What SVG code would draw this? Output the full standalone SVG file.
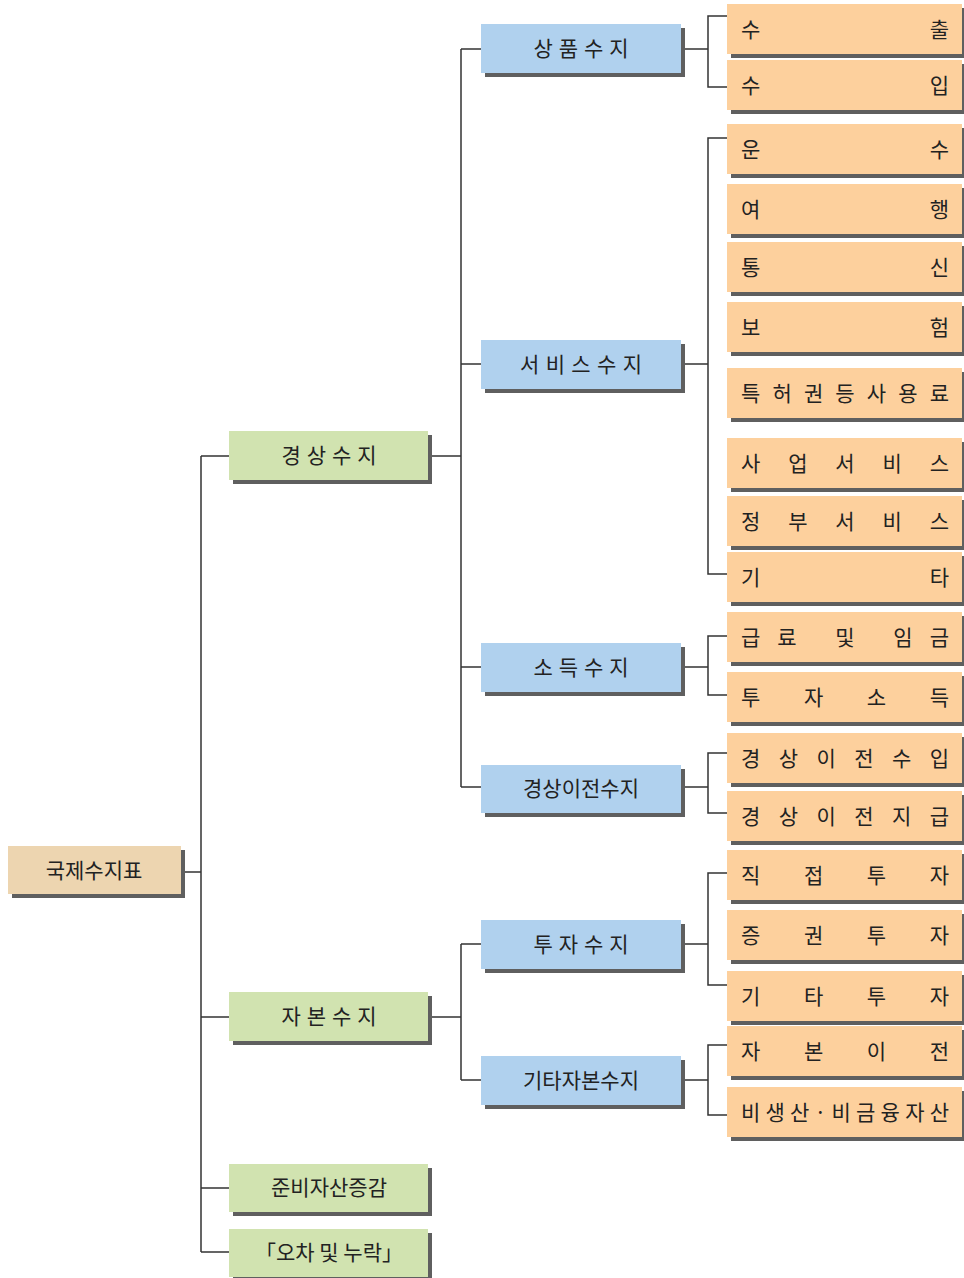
<svg xmlns="http://www.w3.org/2000/svg" width="964" height="1278" viewBox="0 0 964 1278">
<style>
text{font-family:"Noto Sans CJK KR","Noto Sans",sans-serif;fill:#222;font-size:21px}
.sh{fill:#5f5f5f}
.root{fill:#EDD5B0}
.g{fill:#D1E3B0}
.b{fill:#B0D1EE}
.o{fill:#FDD09D}
.c{text-anchor:middle}
#connectors path{fill:none;stroke:#333;stroke-width:1.5}
</style>
<rect width="964" height="1278" fill="#fff"/>
<g id="connectors">
<path d="M181 872H201M201 456V1252M201 456H229M201 1017H229M201 1188H229M201 1252H229"/>
<path d="M428 456H461M461 49V787M461 49H481M461 364H481M461 667H481M461 787H481"/>
<path d="M428 1017H461M461 944V1080M461 944H481M461 1080H481"/>
<path d="M684 49H708M727 16H708V87H727"/>
<path d="M684 364H708M727 138H708V574H727"/>
<path d="M684 667H708M727 636H708V695H727"/>
<path d="M684 787H708M727 753H708V813H727"/>
<path d="M684 944H708M727 873H708V985H727"/>
<path d="M684 1080H708M727 1045H708V1115H727"/>
</g>
<g id="n-root"><rect class="sh" x="12" y="850" width="173" height="48"/><rect class="root" x="8" y="846" width="173" height="48"/><text class="c" x="94" y="878">국제수지표</text></g>
<g id="n-current"><rect class="sh" x="233" y="435" width="199" height="49"/><rect class="g" x="229" y="431" width="199" height="49"/><text class="c" x="329" y="463" textLength="95" lengthAdjust="spacing">경상수지</text></g>
<g id="n-capital"><rect class="sh" x="233" y="996" width="199" height="49"/><rect class="g" x="229" y="992" width="199" height="49"/><text class="c" x="329" y="1024" textLength="95" lengthAdjust="spacing">자본수지</text></g>
<g id="n-reserve"><rect class="sh" x="233" y="1168" width="199" height="48"/><rect class="g" x="229" y="1164" width="199" height="48"/><text class="c" x="329" y="1195">준비자산증감</text></g>
<g id="n-error"><rect class="sh" x="233" y="1233" width="199" height="48"/><rect class="g" x="229" y="1229" width="199" height="48"/><text class="c" x="329" y="1260">「오차 및 누락」</text></g>
<g id="n-goods"><rect class="sh" x="485" y="28" width="200" height="49"/><rect class="b" x="481" y="24" width="200" height="49"/><text class="c" x="581" y="56" textLength="95" lengthAdjust="spacing">상품수지</text></g>
<g id="n-services"><rect class="sh" x="485" y="344" width="200" height="49"/><rect class="b" x="481" y="340" width="200" height="49"/><text class="c" x="581" y="372" textLength="122" lengthAdjust="spacing">서비스수지</text></g>
<g id="n-income"><rect class="sh" x="485" y="647" width="200" height="49"/><rect class="b" x="481" y="643" width="200" height="49"/><text class="c" x="581" y="675" textLength="95" lengthAdjust="spacing">소득수지</text></g>
<g id="n-transfer"><rect class="sh" x="485" y="769" width="200" height="48"/><rect class="b" x="481" y="765" width="200" height="48"/><text class="c" x="581" y="796">경상이전수지</text></g>
<g id="n-invest"><rect class="sh" x="485" y="924" width="200" height="49"/><rect class="b" x="481" y="920" width="200" height="49"/><text class="c" x="581" y="952" textLength="95" lengthAdjust="spacing">투자수지</text></g>
<g id="n-othercap"><rect class="sh" x="485" y="1060" width="200" height="49"/><rect class="b" x="481" y="1056" width="200" height="49"/><text class="c" x="581" y="1088">기타자본수지</text></g>
<g id="n-export"><rect class="sh" x="731" y="8" width="235" height="50"/><rect class="o" x="727" y="4" width="235" height="50"/><text x="741" y="37" textLength="208" lengthAdjust="spacing">수출</text></g>
<g id="n-import"><rect class="sh" x="731" y="64" width="235" height="50"/><rect class="o" x="727" y="60" width="235" height="50"/><text x="741" y="93" textLength="208" lengthAdjust="spacing">수입</text></g>
<g id="n-transport"><rect class="sh" x="731" y="128" width="235" height="50"/><rect class="o" x="727" y="124" width="235" height="50"/><text x="741" y="157" textLength="208" lengthAdjust="spacing">운수</text></g>
<g id="n-travel"><rect class="sh" x="731" y="188" width="235" height="50"/><rect class="o" x="727" y="184" width="235" height="50"/><text x="741" y="217" textLength="208" lengthAdjust="spacing">여행</text></g>
<g id="n-comm"><rect class="sh" x="731" y="246" width="235" height="50"/><rect class="o" x="727" y="242" width="235" height="50"/><text x="741" y="275" textLength="208" lengthAdjust="spacing">통신</text></g>
<g id="n-insurance"><rect class="sh" x="731" y="306" width="235" height="50"/><rect class="o" x="727" y="302" width="235" height="50"/><text x="741" y="335" textLength="208" lengthAdjust="spacing">보험</text></g>
<g id="n-royalty"><rect class="sh" x="731" y="372" width="235" height="50"/><rect class="o" x="727" y="368" width="235" height="50"/><text x="741" y="401" textLength="208" lengthAdjust="spacing">특허권등사용료</text></g>
<g id="n-business"><rect class="sh" x="731" y="442" width="235" height="50"/><rect class="o" x="727" y="438" width="235" height="50"/><text x="741" y="471" textLength="208" lengthAdjust="spacing">사업서비스</text></g>
<g id="n-gov"><rect class="sh" x="731" y="500" width="235" height="50"/><rect class="o" x="727" y="496" width="235" height="50"/><text x="741" y="529" textLength="208" lengthAdjust="spacing">정부서비스</text></g>
<g id="n-etc"><rect class="sh" x="731" y="556" width="235" height="50"/><rect class="o" x="727" y="552" width="235" height="50"/><text x="741" y="585" textLength="208" lengthAdjust="spacing">기타</text></g>
<g id="n-wage"><rect class="sh" x="731" y="616" width="235" height="50"/><rect class="o" x="727" y="612" width="235" height="50"/><text x="741" y="645" textLength="208" lengthAdjust="spacing">급료 및 임금</text></g>
<g id="n-invincome"><rect class="sh" x="731" y="676" width="235" height="50"/><rect class="o" x="727" y="672" width="235" height="50"/><text x="741" y="705" textLength="208" lengthAdjust="spacing">투자소득</text></g>
<g id="n-trin"><rect class="sh" x="731" y="737" width="235" height="50"/><rect class="o" x="727" y="733" width="235" height="50"/><text x="741" y="766" textLength="208" lengthAdjust="spacing">경상이전수입</text></g>
<g id="n-trout"><rect class="sh" x="731" y="795" width="235" height="50"/><rect class="o" x="727" y="791" width="235" height="50"/><text x="741" y="824" textLength="208" lengthAdjust="spacing">경상이전지급</text></g>
<g id="n-direct"><rect class="sh" x="731" y="854" width="235" height="50"/><rect class="o" x="727" y="850" width="235" height="50"/><text x="741" y="883" textLength="208" lengthAdjust="spacing">직접투자</text></g>
<g id="n-portfolio"><rect class="sh" x="731" y="914" width="235" height="50"/><rect class="o" x="727" y="910" width="235" height="50"/><text x="741" y="943" textLength="208" lengthAdjust="spacing">증권투자</text></g>
<g id="n-otherinv"><rect class="sh" x="731" y="975" width="235" height="50"/><rect class="o" x="727" y="971" width="235" height="50"/><text x="741" y="1004" textLength="208" lengthAdjust="spacing">기타투자</text></g>
<g id="n-captransfer"><rect class="sh" x="731" y="1030" width="235" height="50"/><rect class="o" x="727" y="1026" width="235" height="50"/><text x="741" y="1059" textLength="208" lengthAdjust="spacing">자본이전</text></g>
<g id="n-nonprod"><rect class="sh" x="731" y="1091" width="235" height="50"/><rect class="o" x="727" y="1087" width="235" height="50"/><text x="741" y="1120" textLength="208" lengthAdjust="spacing">비생산·비금융자산</text></g>
</svg>
